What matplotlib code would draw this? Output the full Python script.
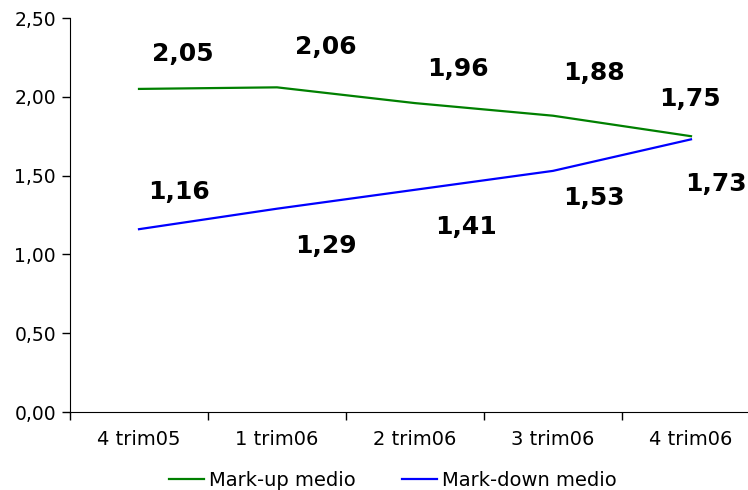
import matplotlib.pyplot as plt
from matplotlib.ticker import FixedLocator, FuncFormatter

periodi = ['4 trim05', '1 trim06', '2 trim06', '3 trim06', '4 trim06']
mark_up = [2.05, 2.06, 1.96, 1.88, 1.75]
mark_down = [1.16, 1.29, 1.41, 1.53, 1.73]

# offset (pixel) of each value label from its point
off_up = [(44, 35), (49, 40), (43, 34), (41, 43), (-1, 37)]
off_down = [(40, 37), (49, -37), (51, -37), (41, -27), (25, -45)]

plt.rcParams['font.family'] = 'DejaVu Sans'

fig = plt.figure(figsize=(7.48, 4.90), dpi=100)
ax = fig.add_axes([70 / 748, 78 / 490, 690 / 748, 394 / 490])

x = [i + 0.5 for i in range(len(periodi))]
ax.plot(x, mark_up, color='#008000', lw=1.6, label='Mark-up medio')
ax.plot(x, mark_down, color='#0000ff', lw=1.6, label='Mark-down medio')

def virgola(v):
    return f'{v:.2f}'.replace('.', ',')

for xi, v, (dx, dy) in zip(x, mark_up, off_up):
    ax.annotate(virgola(v), (xi, v), xytext=(dx, dy), textcoords='offset pixels',
                ha='center', va='center', fontsize=18, fontweight='bold',
                annotation_clip=False)
for xi, v, (dx, dy) in zip(x, mark_down, off_down):
    ax.annotate(virgola(v), (xi, v), xytext=(dx, dy), textcoords='offset pixels',
                ha='center', va='center', fontsize=18, fontweight='bold',
                annotation_clip=False)

ax.set_xlim(0, 5)
ax.set_ylim(0, 2.5)
ax.set_yticks([0, 0.5, 1.0, 1.5, 2.0, 2.5])
ax.yaxis.set_major_formatter(FuncFormatter(lambda v, p: virgola(v)))
ax.xaxis.set_major_locator(FixedLocator([0, 1, 2, 3, 4, 5]))
ax.xaxis.set_major_formatter(FuncFormatter(lambda v, p: ''))
ax.xaxis.set_minor_locator(FixedLocator(x))
ax.set_xticklabels(periodi, minor=True)
ax.tick_params(axis='x', which='minor', length=0, pad=13, labelsize=14)
ax.tick_params(axis='x', which='major', length=6, width=1)
ax.tick_params(axis='y', length=6, width=1, labelsize=13.5, pad=4)

for s in ['top', 'right']:
    ax.spines[s].set_visible(False)

fig.legend(loc='lower center', bbox_to_anchor=(0.525, -0.035), ncol=2, frameon=False,
           fontsize=14, handlelength=1.8, handletextpad=0.25, columnspacing=2.4)

fig.savefig('out.png', dpi=100)
